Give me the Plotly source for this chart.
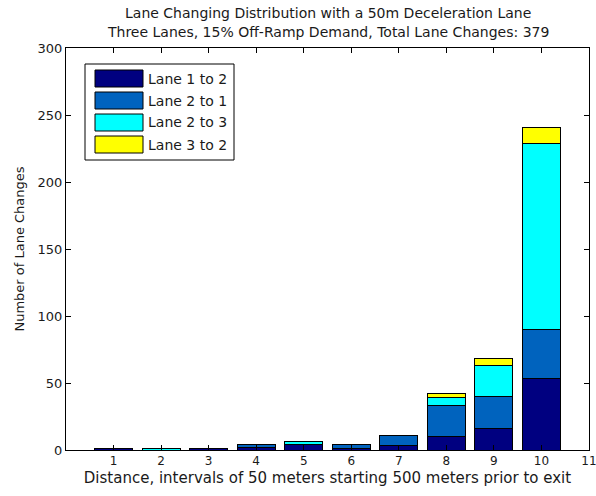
import plotly.graph_objects as go

categories = [1, 2, 3, 4, 5, 6, 7, 8, 9, 10]
series_names = ["Lane 1 to 2", "Lane 2 to 1", "Lane 2 to 3", "Lane 3 to 2"]
lane_1_to_2 = [1, 0, 1, 2, 4, 1, 3, 10, 16, 53]
lane_2_to_1 = [0, 0, 0, 2, 0, 3, 8, 23, 24, 37]
lane_2_to_3 = [0, 1, 0, 0, 2, 0, 0, 6, 23, 139]
lane_3_to_2 = [0, 0, 0, 0, 0, 0, 0, 3, 5, 12]
x_ticks = [1, 2, 3, 4, 5, 6, 7, 8, 9, 10, 11]
y_ticks = [0, 50, 100, 150, 200, 250, 300]

colors = ["#000080", "#0063BE", "#00FFFF", "#FFFF00"]
series = [lane_1_to_2, lane_2_to_1, lane_2_to_3, lane_3_to_2]

FONT = "DejaVu Sans, Liberation Sans, Arial, sans-serif"
TXT = "#1a1a1a"

fig = go.Figure()
for name, vals, col in zip(series_names, series, colors):
    fig.add_trace(go.Bar(
        x=categories, y=vals, name=name, width=0.8,
        marker=dict(color=col, line=dict(color="black", width=1)),
        showlegend=False,
    ))

# body margin is removed in the page (post_script), so window pixels == figure pixels
W, H = 596, 496
plot_left, plot_right, plot_top, plot_bottom = 66, 589, 48, 450
ml, mt = plot_left, plot_top
mr, mb = W - plot_right, H - plot_bottom
pw, ph = plot_right - plot_left, plot_bottom - plot_top

def px2paper(x, y):
    return (x - plot_left) / pw, 1 - (y - plot_top) / ph

# Custom legend (large swatches as in the reference)
L, T = 85, 64
legend_w, legend_h = 149, 96
x0, y0 = px2paper(L, T)
x1, y1 = px2paper(L + legend_w, T + legend_h)
fig.add_shape(type="rect", xref="paper", yref="paper", x0=x0, y0=y0, x1=x1, y1=y1,
              line=dict(color="black", width=1), fillcolor="white", layer="above")
row_tops = [70, 92, 114, 136]
for name, col, rt in zip(series_names, colors, row_tops):
    sx0, sy0 = px2paper(95, rt)
    sx1, sy1 = px2paper(143, rt + 17)
    fig.add_shape(type="rect", xref="paper", yref="paper", x0=sx0, y0=sy0, x1=sx1, y1=sy1,
                  line=dict(color="black", width=1), fillcolor=col, layer="above")
    tx, ty = px2paper(146, rt + 8.5)
    fig.add_annotation(xref="paper", yref="paper", x=tx, y=ty, text=name, showarrow=False,
                       xanchor="left", yanchor="middle", font=dict(family=FONT, size=14, color=TXT))

fig.add_annotation(xref="paper", yref="paper", x=0.5, y=1, yshift=25, showarrow=False,
                   text="Lane Changing Distribution with a 50m Deceleration Lane",
                   yanchor="bottom", font=dict(family=FONT, size=14, color=TXT))
fig.add_annotation(xref="paper", yref="paper", x=0.5, y=1, yshift=6, showarrow=False,
                   text="Three Lanes, 15% Off-Ramp Demand, Total Lane Changes: 379",
                   yanchor="bottom", font=dict(family=FONT, size=14, color=TXT))

fig.update_layout(
    width=W, height=H,
    margin=dict(l=ml, r=mr, t=mt, b=mb, autoexpand=False),
    barmode="stack",
    paper_bgcolor="white", plot_bgcolor="white",
    font=dict(family=FONT, size=12, color=TXT),
    xaxis=dict(range=[0, 11], tickvals=x_ticks, ticks="inside", ticklen=5, tickcolor="black",
               showline=True, linecolor="black", linewidth=1, mirror="ticks", showgrid=False,
               zeroline=False, tickfont=dict(size=12), ticklabeloverflow="allow",
               automargin=False,
               title=dict(text="Distance, intervals of 50 meters starting 500 meters prior to exit",
                          font=dict(size=15), standoff=5)),
    yaxis=dict(range=[0, 300], tickvals=y_ticks, ticks="inside", ticklen=5, tickcolor="black",
               showline=True, linecolor="black", linewidth=1, mirror="ticks", showgrid=False,
               zeroline=False, tickfont=dict(size=13), automargin=False,
               title=dict(text="Number of Lane Changes", font=dict(size=13), standoff=10)),
)

fig.write_html("out.html",
               config={"displayModeBar": False},
               post_script="document.body.style.margin='0';document.body.style.overflow='hidden';")
